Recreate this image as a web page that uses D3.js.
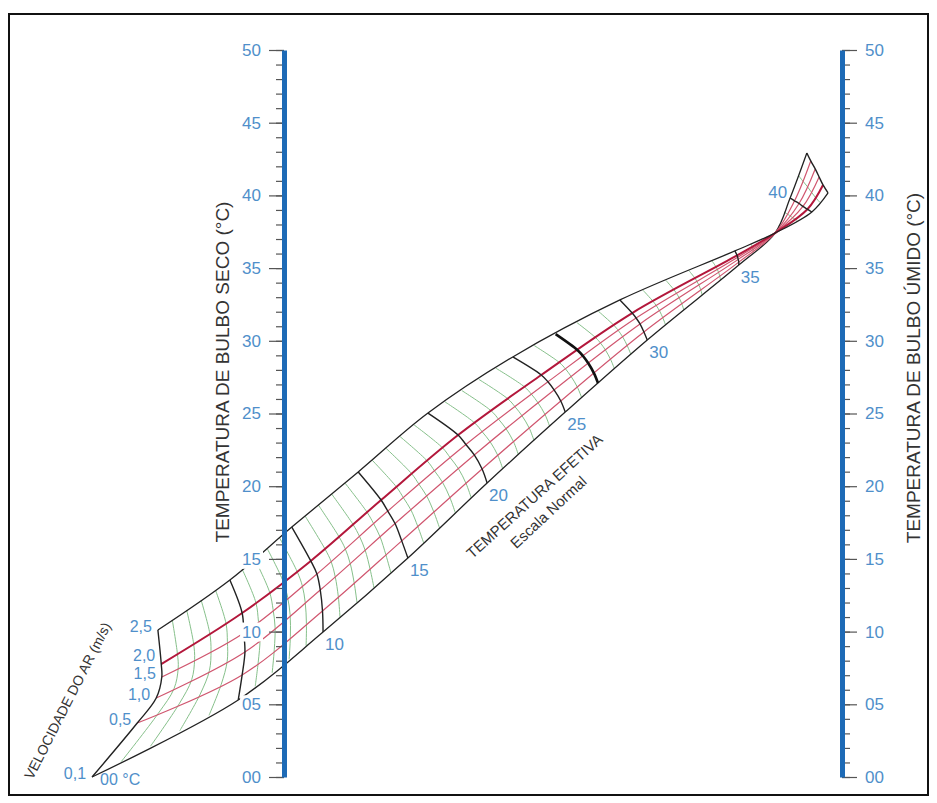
<!DOCTYPE html>
<html>
<head>
<meta charset="utf-8">
<script src="https://cdn.jsdelivr.net/npm/d3@7"></script>
<style>
    body { margin: 0; background: #fff; }
    text { font-family: "Liberation Sans", Arial, sans-serif; }
</style>
</head>
<body>
<div id="chart"></div>
<script>
const etNodes = [0, 5, 10, 15, 20, 25, 30, 35, 37.5, 40, 42];

// velocity lines: [position between the two scales in %, dry bulb °C] at each etNode
const v01 = [[-34.4, 0.0], [-8.2, 5.3], [7.0, 9.97], [22.2, 15.06], [36.4, 20.22], [50.4, 25.1], [65.1, 30.06], [81.5, 35.21], [88.0, 37.41], [90.7, 39.82], [93.7, 42.92]];
const v05 = [[-26.3, 3.71], [-7.5, 7.02], [6.9, 11.42], [21.1, 16.24], [35.5, 21.18], [49.6, 25.86], [64.5, 30.61], [81.5, 35.41], [88.0, 37.41], [91.5, 39.63], [94.4, 42.37]];
const v10 = [[-22.9, 5.43], [-7.0, 8.6], [6.5, 12.86], [19.9, 17.43], [34.1, 22.15], [48.4, 26.62], [63.8, 31.16], [81.4, 35.6], [88.0, 37.41], [92.3, 39.44], [95.2, 41.82]];
const v15 = [[-21.9, 6.88], [-7.2, 9.9], [5.9, 13.96], [18.6, 18.29], [32.6, 22.87], [47.3, 27.18], [63.1, 31.57], [81.3, 35.74], [88.0, 37.41], [93.0, 39.24], [95.9, 41.27]];
const v20 = [[-22.0, 7.77], [-7.5, 11.28], [4.8, 14.86], [17.4, 19.05], [31.2, 23.52], [46.1, 27.65], [62.4, 31.91], [81.2, 35.87], [88.0, 37.41], [93.8, 39.05], [96.6, 40.72]];
const v25 = [[-22.6, 10.11], [-9.7, 13.55], [1.4, 17.19], [13.3, 20.98], [25.8, 25.03], [41.0, 28.89], [60.2, 32.81], [80.8, 36.18], [88.0, 37.41], [94.6, 38.86], [97.5, 40.17]];

const velLines = [v01, v05, v10, v15, v20, v25];
const velLabels = ["0,1", "0,5", "1,0", "1,5", "2,0", "2,5"];

const etMajor = [0, 5, 10, 15, 20, 25, 30, 35, 40, 42];
const etLabels = [10, 15, 20, 25, 30, 35, 40];
const etHeavy = [27];
const etMinor = d3.range(1, 42).filter(d => d % 5 !== 0 && d !== 27);

const tempMajor = d3.range(0, 51, 5);
const tempMinor = d3.range(0, 51, 1);

const width = 937;
const height = 803;
const blue = "#1d6ab6";
const labelBlue = "#4f8fca";

const svg = d3.select("#chart")
    .append("svg")
    .attr("width", width)
    .attr("height", height);

svg.append("rect")
    .attr("x", 9).attr("y", 14)
    .attr("width", 919).attr("height", 781)
    .attr("fill", "none")
    .attr("stroke", "#111")
    .attr("stroke-width", 2);

// x: 0 = dry bulb scale, 100 = wet bulb scale
const xScale = d3.scaleLinear().domain([0, 100]).range([284, 842]);
const yScale = d3.scaleLinear().domain([0, 50]).range([777, 50]);

// one piecewise scale per velocity line: ET -> position
const posX = velLines.map(l => d3.scaleLinear().domain(etNodes).range(l.map(p => p[0])));
const posT = velLines.map(l => d3.scaleLinear().domain(etNodes).range(l.map(p => p[1])));
const pointAt = (k, et) => [xScale(posX[k](et)), yScale(posT[k](et))];

const curve = d3.line().curve(d3.curveCatmullRom);
const grid = svg.append("g").attr("class", "grid");

const etPath = et => curve(velLines.map((_, k) => pointAt(k, et)));

// green minor effective temperature lines
grid.selectAll(".et-minor")
    .data(etMinor)
    .join("path")
    .attr("d", etPath)
    .attr("fill", "none")
    .attr("stroke", "#86c08a")
    .attr("stroke-width", 1);

// velocity lines
grid.selectAll(".vel")
    .data(velLines)
    .join("path")
    .attr("d", l => curve(l.map(p => [xScale(p[0]), yScale(p[1])])))
    .attr("fill", "none")
    .attr("stroke", (d, i) => (i === 0 || i === velLines.length - 1) ? "#222" : (i === 4 ? "#b3173b" : "#d0566f"))
    .attr("stroke-width", (d, i) => (i === 0 || i === velLines.length - 1) ? 1.3 : (i === 4 ? 2 : 1.2));

// black effective temperature lines
grid.selectAll(".et-major")
    .data(etMajor)
    .join("path")
    .attr("d", etPath)
    .attr("fill", "none")
    .attr("stroke", "#222")
    .attr("stroke-width", 1.4);

grid.selectAll(".et-heavy")
    .data(etHeavy)
    .join("path")
    .attr("d", etPath)
    .attr("fill", "none")
    .attr("stroke", "#111")
    .attr("stroke-width", 2.6);

// ET labels
grid.selectAll(".et-label")
    .data(etLabels)
    .join("text")
    .attr("x", d => d === 40 ? pointAt(0, d)[0] - 3 : pointAt(0, d)[0] + 2)
    .attr("y", d => d === 40 ? pointAt(0, d)[1] : pointAt(0, d)[1] + 18)
    .attr("text-anchor", d => d === 40 ? "end" : "start")
    .attr("font-size", 17)
    .attr("fill", labelBlue)
    .text(d => d);

// velocity labels, pushed apart where they would collide
const velLabelY = velLabels.map((d, i) => pointAt(i, 0)[1] + 2);
for (let i = 1; i < velLabelY.length; i++) {
    if (velLabelY[i] > velLabelY[i - 1] - 18) velLabelY[i] = velLabelY[i - 1] - 18;
}
grid.selectAll(".vel-label")
    .data(velLabels)
    .join("text")
    .attr("x", (d, i) => pointAt(i, 0)[0] - 6)
    .attr("y", (d, i) => velLabelY[i])
    .attr("text-anchor", "end")
    .attr("font-size", 16)
    .attr("fill", labelBlue)
    .text(d => d);

svg.append("text")
    .attr("x", pointAt(0, 0)[0] + 8)
    .attr("y", pointAt(0, 0)[1] + 8)
    .attr("font-size", 16)
    .attr("fill", labelBlue)
    .text("00 °C");

// axes
const drawAxis = (axisFn, x) => {
    const minor = svg.append("g")
        .attr("transform", `translate(${x}, 0)`)
        .call(axisFn(yScale).tickValues(tempMinor).tickSize(8).tickSizeOuter(0).tickFormat(""));
    minor.select(".domain").remove();
    minor.selectAll("line").attr("stroke", "#555").attr("stroke-width", 1.2);

    const major = svg.append("g")
        .attr("transform", `translate(${x}, 0)`)
        .call(axisFn(yScale).tickValues(tempMajor).tickSize(15).tickSizeOuter(0)
            .tickPadding(8).tickFormat(d3.format("02d")));
    major.selectAll("line").attr("stroke", "#555").attr("stroke-width", 1.2);
    major.selectAll("text")
        .attr("font-size", 17)
        .attr("font-family", "Liberation Sans, Arial, sans-serif")
        .attr("fill", labelBlue);
    // white box behind each number so the grid is hidden there
    major.selectAll(".tick").each(function () {
        const t = d3.select(this).select("text");
        const b = t.node().getBBox();
        d3.select(this).insert("rect", "text")
            .attr("x", b.x - 2).attr("y", b.y)
            .attr("width", b.width + 4).attr("height", b.height)
            .attr("fill", "#fff");
    });
    major.select(".domain")
        .attr("stroke", blue)
        .attr("stroke-width", 5)
        .raise();
};
drawAxis(d3.axisLeft, 284);
drawAxis(d3.axisRight, 842);

// titles
svg.append("text")
    .attr("transform", "translate(229, 372) rotate(-90)")
    .attr("text-anchor", "middle")
    .attr("font-size", 19)
    .attr("fill", "#333")
    .text("TEMPERATURA DE BULBO SECO  (°C)");

svg.append("text")
    .attr("transform", "translate(920, 368) rotate(-90)")
    .attr("text-anchor", "middle")
    .attr("font-size", 19)
    .attr("fill", "#333")
    .text("TEMPERATURA DE BULBO ÚMIDO (°C)");

svg.append("text")
    .attr("transform", "translate(72, 703) rotate(-63)")
    .attr("text-anchor", "middle")
    .attr("font-size", 14)
    .attr("fill", "#333")
    .text("VELOCIDADE DO AR (m/s)");

svg.append("text")
    .attr("transform", "translate(538, 500) rotate(-42)")
    .attr("text-anchor", "middle")
    .attr("font-size", 15)
    .attr("fill", "#333")
    .text("TEMPERATURA EFETIVA");

svg.append("text")
    .attr("transform", "translate(552, 516) rotate(-43)")
    .attr("text-anchor", "middle")
    .attr("font-size", 15)
    .attr("fill", "#333")
    .text("Escala Normal");
</script>
</body>
</html>
